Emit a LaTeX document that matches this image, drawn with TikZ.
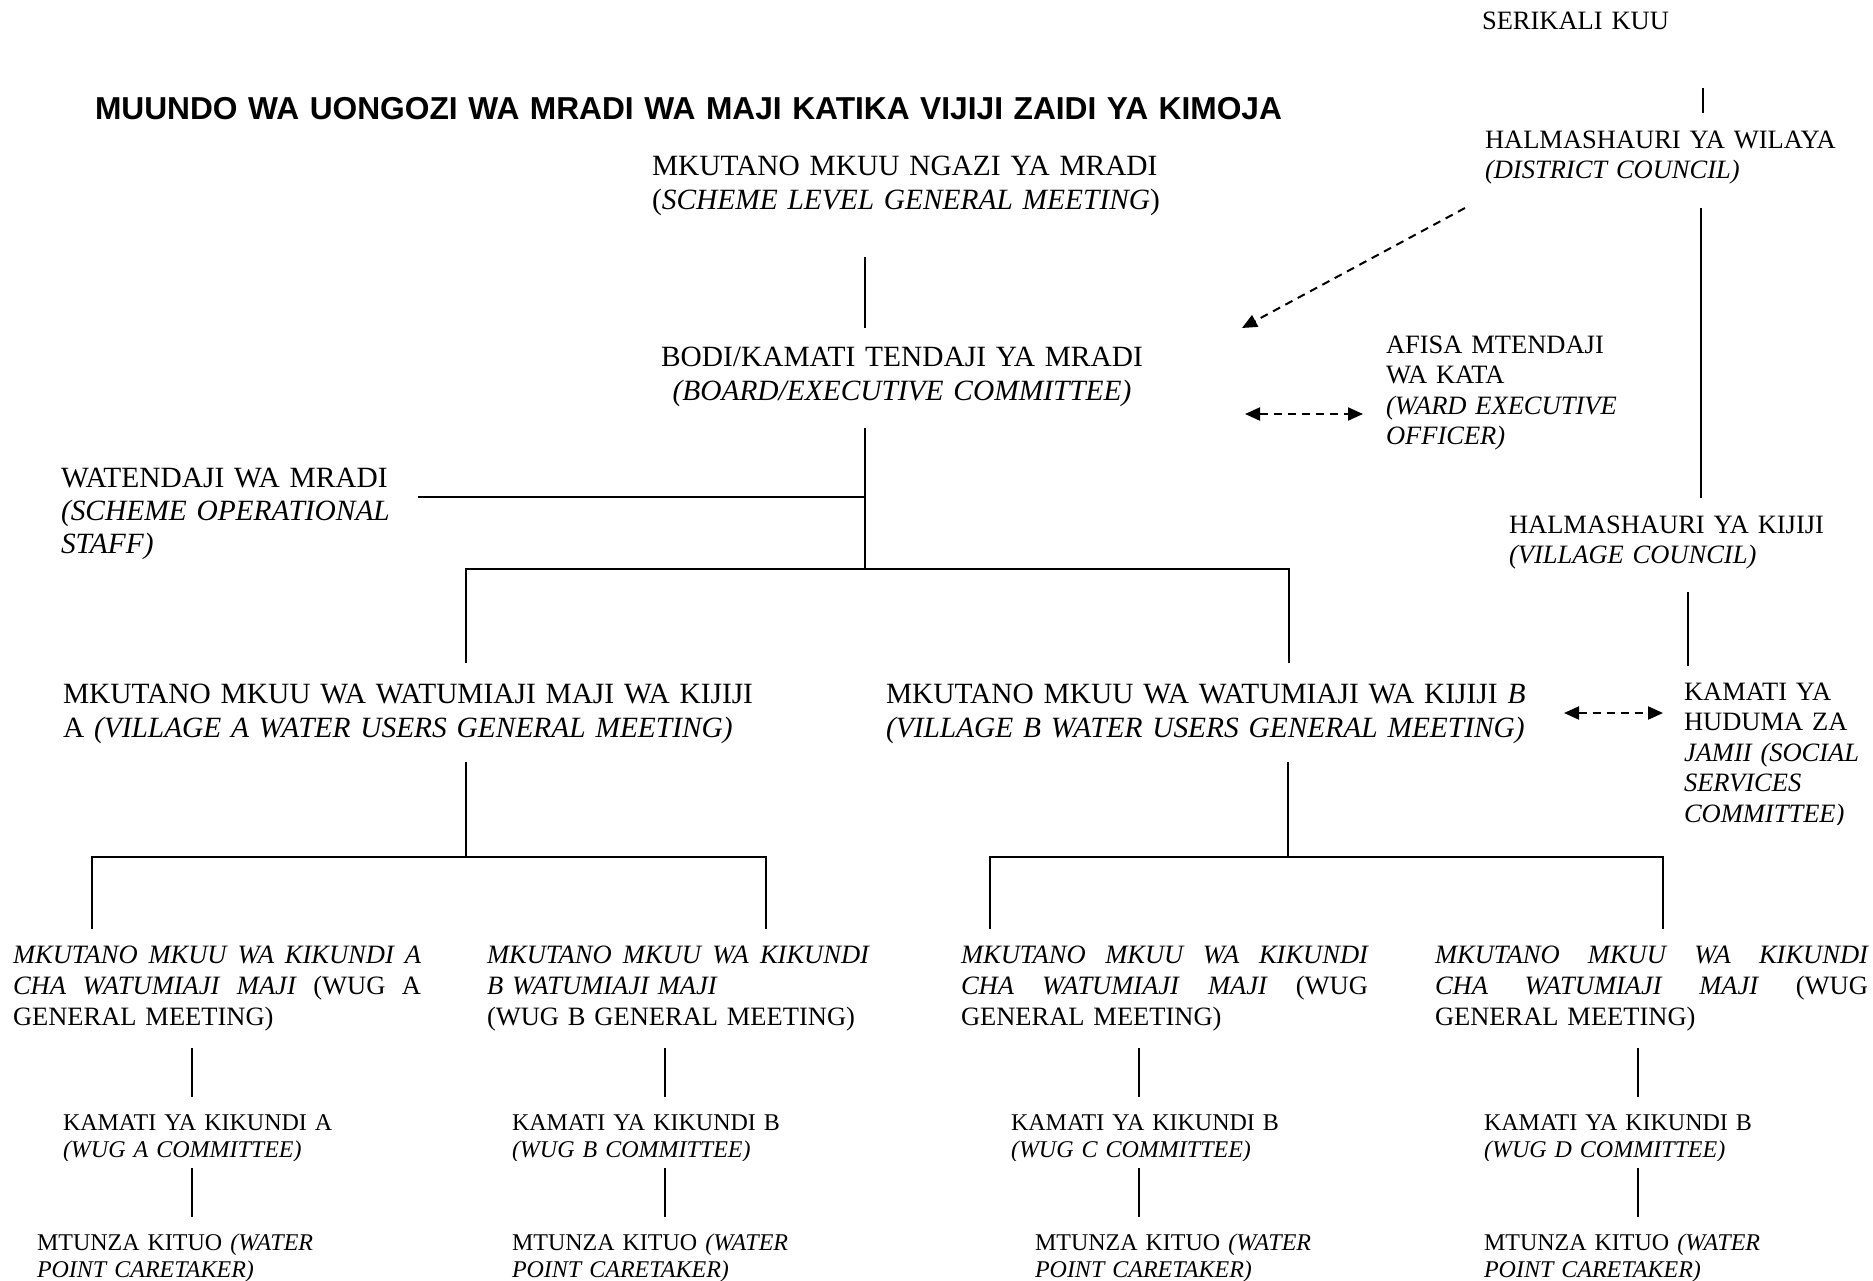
\documentclass[tikz,border=0pt]{standalone}
\usepackage{fontspec}
\setmainfont{Liberation Serif}
\newfontfamily\headfont{Liberation Sans}
\usetikzlibrary{arrows.meta}

% type sizes (1pt = one unit of the drawing)
\newcommand\fsMain{\fontsize{29.4}{34}\selectfont}
\newcommand\fsSide{\fontsize{26.5}{30.5}\selectfont}
\newcommand\fsSmall{\fontsize{24}{27}\selectfont}
% a justified line: words spread over the given width
\newcommand\jline[2]{\makebox[#1][l]{#2}}

\begin{document}
\begin{tikzpicture}[x=1pt,y=-1pt,
  txt/.style={inner sep=0pt, outer sep=0pt, anchor=base west, align=left, text width=760pt},
  ctxt/.style={inner sep=0pt, outer sep=0pt, anchor=base, align=center, text width=700pt},
  conn/.style={line width=2.2pt},
  dasharrow/.style={line width=2pt, dash pattern=on 8pt off 6pt, -{Triangle[length=15pt,width=13pt]}},
  dashboth/.style={line width=2pt, dash pattern=on 8pt off 6pt, {Triangle[length=15pt,width=13pt]}-{Triangle[length=15pt,width=13pt]}}]

\useasboundingbox (0,0) rectangle (1873,1280);
\fill[white] (0,0) rectangle (1873,1280);

% ---------- heading ----------
\node[txt, text width=1400pt, font=\headfont\bfseries\fontsize{31.7}{38}\selectfont] (title) at (95,119)
  {MUUNDO WA UONGOZI WA MRADI WA MAJI KATIKA VIJIJI ZAIDI YA KIMOJA};

% ---------- government side ----------
\node[txt, font=\fsSide] (serikali) at (1482,29) {SERIKALI KUU};
\node[txt, font=\fsSide] (wilaya) at (1485,148) {HALMASHAURI YA WILAYA\\\textit{(DISTRICT COUNCIL)}};
\node[txt, font=\fsSide] (afisa) at (1386,353) {AFISA MTENDAJI\\WA KATA\\\textit{(WARD EXECUTIVE}\\\textit{OFFICER)}};
\node[txt, font=\fsSide] (kijiji) at (1509,533) {HALMASHAURI YA KIJIJI\\\textit{(VILLAGE COUNCIL)}};
\begin{scope}
  \clip (0,0) rectangle (1873,824);
  \node[txt, font=\fsSide] (huduma) at (1684,700) {KAMATI YA\\HUDUMA ZA\\\textit{JAMII (SOCIAL}\\\textit{SERVICES}\\\textit{COMMITTEE)}};
\end{scope}

% ---------- scheme level ----------
\node[txt, font=\fsMain, text width=700pt] (ngazi) at (652,175) {MKUTANO MKUU NGAZI YA MRADI\\(\textit{SCHEME LEVEL GENERAL MEETING})};
\node[ctxt, font=\fsMain] (bodi) at (902,366) {BODI/KAMATI TENDAJI YA MRADI\\\textit{(BOARD/EXECUTIVE COMMITTEE)}};
\node[txt, font=\fontsize{29.4}{33}\selectfont] (watendaji) at (61,487) {WATENDAJI WA MRADI\\\textit{(SCHEME OPERATIONAL}\\\textit{STAFF)}};

% ---------- village level ----------
\node[txt, font=\fsMain] (villA) at (63,703) {MKUTANO MKUU WA WATUMIAJI MAJI WA KIJIJI\\A \textit{(VILLAGE A WATER USERS GENERAL MEETING)}};
\node[txt, font=\fsMain] (villB) at (886,703) {MKUTANO MKUU WA WATUMIAJI WA KIJIJI \textit{B}\\\textit{(VILLAGE B WATER USERS GENERAL MEETING)}};

% ---------- water user groups ----------
\node[txt, font=\fontsize{26.5}{31}\selectfont] (wugA) at (13,963)
  {\jline{408pt}{\itshape MKUTANO\hfill MKUU\hfill WA\hfill KIKUNDI\hfill A}\\
   \jline{408pt}{\textit{CHA}\hfill\textit{WATUMIAJI}\hfill\textit{MAJI}\hfill(WUG\hfill A}\\
   GENERAL MEETING)};
\node[txt, font=\fontsize{26.5}{31}\selectfont] (wugB) at (487,963)
  {\jline{382pt}{\itshape MKUTANO\hfill MKUU\hfill WA\hfill KIKUNDI}\\
   \textit{B WATUMIAJI MAJI}\\
   (WUG B GENERAL MEETING)};
\node[txt, font=\fontsize{26.5}{31}\selectfont] (wugC) at (961,963)
  {\jline{407pt}{\itshape MKUTANO\hfill MKUU\hfill WA\hfill KIKUNDI}\\
   \jline{407pt}{\textit{CHA}\hfill\textit{WATUMIAJI}\hfill\textit{MAJI}\hfill(WUG}\\
   GENERAL MEETING)};
\node[txt, font=\fontsize{26.5}{31}\selectfont] (wugD) at (1435,963)
  {\jline{433pt}{\itshape MKUTANO\hfill MKUU\hfill WA\hfill KIKUNDI}\\
   \jline{433pt}{\textit{CHA}\hfill\textit{WATUMIAJI}\hfill\textit{MAJI}\hfill(WUG}\\
   GENERAL MEETING)};

\begin{scope}
  \clip (0,0) rectangle (1873,1160);
  \node[txt, font=\fsSmall] (kamA) at (63,1130) {KAMATI YA KIKUNDI A\\\textit{(WUG A COMMITTEE)}};
  \node[txt, font=\fsSmall] (kamB) at (512,1130) {KAMATI YA KIKUNDI B\\\textit{(WUG B COMMITTEE)}};
  \node[txt, font=\fsSmall] (kamC) at (1011,1130) {KAMATI YA KIKUNDI B\\\textit{(WUG C COMMITTEE)}};
  \node[txt, font=\fsSmall] (kamD) at (1484,1130) {KAMATI YA KIKUNDI B\\\textit{(WUG D COMMITTEE)}};
\end{scope}

\node[txt, font=\fsSmall] (mtA) at (37,1250) {MTUNZA KITUO \textit{(WATER}\\\textit{POINT CARETAKER)}};
\node[txt, font=\fsSmall] (mtB) at (512,1250) {MTUNZA KITUO \textit{(WATER}\\\textit{POINT CARETAKER)}};
\node[txt, font=\fsSmall] (mtC) at (1035,1250) {MTUNZA KITUO \textit{(WATER}\\\textit{POINT CARETAKER)}};
\node[txt, font=\fsSmall] (mtD) at (1484,1250) {MTUNZA KITUO \textit{(WATER}\\\textit{POINT CARETAKER)}};

% ---------- connector end points ----------
\coordinate (serikaliS) at (1703,88);   \coordinate (wilayaN) at (1703,113);
\coordinate (wilayaS)   at (1701,208);  \coordinate (kijijiN) at (1701,498);
\coordinate (kijijiS)   at (1688,592);  \coordinate (hudumaN) at (1688,666);
\coordinate (ngaziS)    at (865,257);   \coordinate (bodiN)   at (865,328);
\coordinate (bodiS)     at (865,428);   \coordinate (bodiJ)   at (865,569);
\coordinate (staffE)    at (418,497);   \coordinate (staffJ)  at (865,497);
\coordinate (villAN)    at (466,663);   \coordinate (villBN)  at (1289,663);
\coordinate (villAS)    at (466,762);   \coordinate (villAJ)  at (466,857);
\coordinate (villBS)    at (1288,762);  \coordinate (villBJ)  at (1288,857);
\coordinate (wugAN) at (92,929);   \coordinate (wugBN) at (766,929);
\coordinate (wugCN) at (990,929);  \coordinate (wugDN) at (1663,929);
\coordinate (wilayaArr) at (1465,208); \coordinate (bodiArr) at (1242,328);
\coordinate (bodiR) at (1245,414);  \coordinate (afisaL) at (1363,414);
\coordinate (villBR) at (1564,713); \coordinate (hudumaL) at (1663,713);

% ---------- solid connectors ----------
\draw[conn] (serikaliS) -- (wilayaN);
\draw[conn] (wilayaS) -- (kijijiN);
\draw[conn] (kijijiS) -- (hudumaN);
\draw[conn] (ngaziS) -- (bodiN);
\draw[conn] (bodiS) -- (bodiJ);
\draw[conn] (staffE) -- (staffJ);
\draw[conn] (villAN) |- (bodiJ) -| (villBN);
\draw[conn] (villAS) -- (villAJ);
\draw[conn] (villBS) -- (villBJ);
\draw[conn] (wugAN) |- (villAJ) -| (wugBN);
\draw[conn] (wugCN) |- (villBJ) -| (wugDN);

\foreach \xx/\nm in {192/A, 665/B, 1139/C, 1638/D}{
  \coordinate (wug\nm S) at (\xx,1048); \coordinate (kam\nm N) at (\xx,1097);
  \coordinate (kam\nm S) at (\xx,1168); \coordinate (mt\nm N) at (\xx,1217);
  \draw[conn] (wug\nm S) -- (kam\nm N);
  \draw[conn] (kam\nm S) -- (mt\nm N);
}

% ---------- dashed links ----------
\draw[dasharrow] (wilayaArr) -- (bodiArr);
\draw[dashboth] (bodiR) -- (afisaL);
\draw[dashboth] (villBR) -- (hudumaL);

\end{tikzpicture}
\end{document}
